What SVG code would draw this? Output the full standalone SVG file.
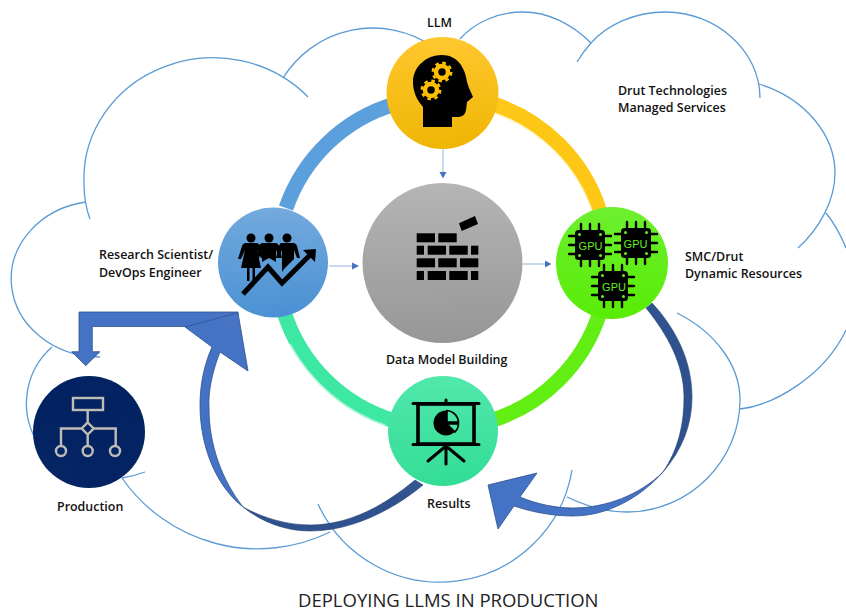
<svg xmlns="http://www.w3.org/2000/svg" xmlns:xlink="http://www.w3.org/1999/xlink" width="846" height="611" viewBox="0 0 846 611">
<style>
.cloud{fill:none;stroke:#5b9bd5;stroke-width:1.3}
.lbl{font-family:"Open Sans","Liberation Sans",sans-serif;font-weight:600;font-size:12.45px;fill:#111}
.gpu{font-family:"Liberation Sans",Arial,sans-serif;font-size:11px;fill:#66ee22;text-anchor:middle}
.ring{fill:none;stroke-width:15}
.thin{stroke:#a9c3e8;stroke-width:1.3;fill:none}
.tip{fill:#4472c4}
.prod{fill:none;stroke:#bfbdb5;stroke-width:2.4}
.big{fill:#4472c4;stroke:#2f528f;stroke-width:.8}
.dark{fill:#2f528f;stroke:#24406f;stroke-width:.6}
</style>
<defs>
<linearGradient id="gY" x1="0" y1="0" x2="0" y2="1"><stop offset="0" stop-color="#ffc72c"/><stop offset="1" stop-color="#efb400"/></linearGradient>
<linearGradient id="gB" x1="0" y1="0" x2="0" y2="1"><stop offset="0" stop-color="#72a9dd"/><stop offset="1" stop-color="#478fd3"/></linearGradient>
<linearGradient id="gS" x1="0" y1="0" x2="0" y2="1"><stop offset="0" stop-color="#b4b4b4"/><stop offset="1" stop-color="#959595"/></linearGradient>
<linearGradient id="gG" x1="0" y1="0" x2="0" y2="1"><stop offset="0" stop-color="#6cef2e"/><stop offset="1" stop-color="#55ec00"/></linearGradient>
<linearGradient id="gT" x1="0" y1="0" x2="0" y2="1"><stop offset="0" stop-color="#50e8ab"/><stop offset="1" stop-color="#2fdc94"/></linearGradient>
<filter id="soft" x="-10%" y="-10%" width="120%" height="120%"><feGaussianBlur stdDeviation=".5"/></filter>
<g id="rim" fill="none" filter="url(#soft)">
<path d="M-.68 -.68A.96 .96 0 0 1 .68 -.68" stroke="#fff" stroke-opacity=".45" stroke-width=".035"/>
<path d="M-.96 .12A.97 .97 0 0 0 .12 .96" stroke="#fff" stroke-opacity=".9" stroke-width=".035"/>
<path d="M.99 -.3A1.03 1.03 0 0 1 .75 .7" stroke="#fff" stroke-opacity=".6" stroke-width=".03"/>
</g>
<g id="chip">
<path d="M-9 -21V-14M0 -21V-14M9 -21V-14M-9 21V14M0 21V14M9 21V14M-21 -9H-14M-21 0H-14M-21 9H-14M21 -9H14M21 0H14M21 9H14" stroke="#000" stroke-width="2.4" stroke-linecap="round"/>
<rect x="-15" y="-15" width="30" height="30" rx="3.5" fill="#000"/>
<circle cx="-10.5" cy="-10.5" r="1.5" fill="#66ee22"/><circle cx="10.5" cy="-10.5" r="1.5" fill="#66ee22"/>
<circle cx="-10.5" cy="10.5" r="1.5" fill="#66ee22"/><circle cx="10.5" cy="10.5" r="1.5" fill="#66ee22"/>
</g>
</defs>
<rect width="846" height="611" fill="#fff"/>

<g id="cloud">
<path class="cloud" d="M90 219C85 206 84 195 84 183A129 121 0 0 1 308 97"/>
<path class="cloud" d="M283 78A106 106 0 0 1 432 46"/>
<path class="cloud" d="M86 202A89 78 0 0 0 100 357"/>
<path class="cloud" d="M52 347A75 75 0 0 0 36 440"/>
<path class="cloud" d="M122 478Q134 476 145 472"/>
<path class="cloud" d="M122 478A165 165 0 0 0 330 532"/>
<path class="cloud" d="M318 504A134 134 0 0 0 572 470"/>
<path class="cloud" d="M567 497C590 508 610 512 627 512C690 512 740 460 740 400C740 365 715 332 677 313"/>
<path class="cloud" d="M740 409C775 405 825 375 846 330"/>
<path class="cloud" d="M759 84C805 98 835 135 835 173C835 200 820 228 798 248"/>
<path class="cloud" d="M826 213Q838 228 846 248"/>
<path class="cloud" d="M760 98C760 50 715 12 666 12C635 12 608 24 591 43Q583 52 577 62"/>
<path class="cloud" d="M591 43C572 24 548 12 523 12C497 12 474 23 460 39"/>
</g>

<g id="ring">
<path class="ring" stroke="#5b9fdc" d="M286 208A165 165 0 0 1 395 104"/>
<path class="ring" stroke="#ffc715" d="M490 103A166 166 0 0 1 600 212"/>
<path class="ring" stroke="#62ee12" d="M600 312A166 166 0 0 1 490 421"/>
<path class="ring" stroke="#3de8a2" d="M284 312A166 166 0 0 0 395 421"/>
<path fill="none" stroke="#fff3b0" stroke-width="1.2" d="M496 114A158 158 0 0 1 592 210"/>
<path fill="none" stroke="#c8fae6" stroke-width="1.2" d="M290 344A173 173 0 0 0 385 425"/>
</g>

<g id="connectors">
<path class="thin" d="M443 148V172"/><path class="tip" d="M439.500 172H446.500L443 178.500Z"/>
<path class="thin" d="M329 266H352"/><path class="tip" d="M352 262.500V269.500L359 266Z"/>
<path class="thin" d="M523 264H545"/><path class="tip" d="M545 260.500V267.500L551.500 264Z"/>
<path class="dark" d="M652 303C677 330 692 362 692 397C692 425 682 450 663 472C678 450 684 425 684 397C684 365 668 335 646 308Z"/>
<path class="big" d="M663 472C640 498 607 516 573 516C552 516 532 512 514 506L498 529L488 485L537 473L520 497C537 504 555 508 573 508C605 508 640 495 663 472Z"/>
<path class="big" d="M79 312H238V326.500H92.300V351.700H100L85.700 365.700L71.700 351.700H79Z"/>
<path class="dark" d="M423 485C390 512 350 531 310 531C285 531 262 522 243 507C263 518 287 525 310 525C350 525 385 505 415 480Z"/>
<path class="big" d="M243 507C215 485 200 445 200 405C200 385 204 365 212 347L185 327L238 312.700L248 371L220 352C213 370 208 390 209 408C209 445 222 480 243 507Z"/>
</g>

<g id="node-data">
<circle cx="442.500" cy="263" r="80" fill="url(#gS)"/>
<use xlink:href="#rim" href="#rim" transform="translate(442.500 263) scale(80)"/>
<g fill="#000">
<path d="M459 223.300L475 216L478 224L461.700 231Z"/>
<rect x="416.700" y="233.300" width="18.300" height="9"/><rect x="438.300" y="233.300" width="18.400" height="9"/>
<rect x="416.700" y="245.700" width="7.300" height="9"/><rect x="427.700" y="245.700" width="18.300" height="9"/><rect x="449.300" y="245.700" width="18.400" height="9"/><rect x="471" y="245.700" width="7.300" height="9"/>
<rect x="416.700" y="258.300" width="18.300" height="9"/><rect x="438.300" y="258.300" width="18.400" height="9"/><rect x="460" y="258.300" width="18.300" height="9"/>
<rect x="416.700" y="271" width="7.300" height="9"/><rect x="427.700" y="271" width="18.300" height="9"/><rect x="449.300" y="271" width="18.400" height="9"/><rect x="471" y="271" width="7.300" height="9"/>
</g>
<text class="lbl" x="386" y="364">Data Model Building</text>
</g>

<g id="node-llm">
<circle cx="442.500" cy="93" r="56" fill="url(#gY)"/>
<use xlink:href="#rim" href="#rim" transform="translate(442.500 93) scale(56)"/>
<path fill="#000" d="M423 127V107C417 100 413 92 413 82C413 67 426 55 442 55C456 55 465 66 467 82L469 88L473 97L467 102L466 110Q465 117 458 117H452V127Z"/>
<g fill="none" stroke="#ffc000">
<circle cx="442" cy="72" r="6" stroke-width="4.500"/><circle cx="442" cy="72" r="9.200" stroke-width="2.500" stroke-dasharray="3.600 3.630"/>
<circle cx="431" cy="90" r="6" stroke-width="4.500"/><circle cx="431" cy="90" r="9.200" stroke-width="2.500" stroke-dasharray="3.600 3.630"/>
</g>
<text class="lbl" x="427" y="27">LLM</text>
</g>

<g id="node-research">
<circle cx="273" cy="262.500" r="55" fill="url(#gB)"/>
<use xlink:href="#rim" href="#rim" transform="translate(273 262.500) scale(55)"/>
<g fill="#000">
<circle cx="251" cy="238" r="4.500"/><circle cx="269" cy="238" r="4.500"/><circle cx="287" cy="238" r="4.500"/>
<path d="M246 243H256Q259 243 260 246L264 258H261L257 250L261 268H255V281H252.500V268H249.500V281H247V268H241L245 250L241 259H238L242 246Q243 243 246 243Z"/>
<path d="M263 243H275Q278 243 279 246L282 258H279L276 250V262L269 258L262 262V250L259 258H256L259 246Q260 243 263 243Z"/>
<path d="M281 243H293Q296 243 297 246L300 258H297L294 250V259L284 269L282 272V250L279 258H276L279 246Q280 243 281 243Z"/>
<path d="M303 250L316 249L315 262Z"/>
</g>
<path fill="none" stroke="#000" stroke-width="5" d="M243 294L268 267L282 283L310 255"/>
<text class="lbl" x="99" y="259">Research Scientist/</text>
<text class="lbl" x="99" y="277">DevOps Engineer</text>
</g>

<g id="node-gpu">
<circle cx="612" cy="263" r="56" fill="url(#gG)"/>
<use xlink:href="#rim" href="#rim" transform="translate(612 263) scale(56)"/>
<use xlink:href="#chip" href="#chip" transform="translate(590 245)"/>
<use xlink:href="#chip" href="#chip" transform="translate(636 243)"/>
<use xlink:href="#chip" href="#chip" transform="translate(613 286)"/>
<text class="gpu" x="590.500" y="249.500">GPU</text>
<text class="gpu" x="635.500" y="248">GPU</text>
<text class="gpu" x="614" y="290.500">GPU</text>
<text class="lbl" x="685" y="261">SMC/Drut</text>
<text class="lbl" x="685" y="278">Dynamic Resources</text>
</g>

<g id="node-results">
<circle cx="443" cy="431" r="55" fill="url(#gT)"/>
<use xlink:href="#rim" href="#rim" transform="translate(443 431) scale(55)"/>
<g fill="none" stroke="#000" stroke-linecap="round">
<path stroke-width="3" d="M413 403.500H479M413 444.500H479"/>
<rect x="418" y="404" width="56" height="40" stroke-width="3.600"/>
<path stroke-width="3" d="M446 400V403M446 445V464M446 446L428 461M446 446L464 461"/>
</g>
<circle cx="446" cy="423" r="12.500" fill="#000"/>
<path d="M447 422V410.500A12.500 12.500 0 0 1 458.500 422Z" fill="#48e6a6" stroke="#000" stroke-width="1.600"/>
<path d="M447 424H458.500A12.500 12.500 0 0 1 455 432Z" fill="#48e6a6" stroke="#000" stroke-width="1.600"/>
<text class="lbl" x="427" y="508">Results</text>
</g>

<g id="node-production">
<circle cx="89" cy="432" r="56" fill="#002060"/>
<use xlink:href="#rim" href="#rim" transform="translate(89 432) scale(56)"/>
<rect class="prod" x="73" y="398" width="30" height="12"/>
<path class="prod" d="M87.700 410V422.500M87.700 434.500V446M81.700 428.500H61V446M93.700 428.500H115.700V446M87.700 422.500L93.700 428.500L87.700 434.500L81.700 428.500Z"/>
<circle class="prod" cx="61" cy="451" r="5"/><circle class="prod" cx="87.700" cy="451" r="5"/><circle class="prod" cx="115" cy="451" r="5"/>
<text class="lbl" x="57" y="511">Production</text>
</g>

<g id="node-cloud-label">
<text class="lbl" x="618" y="95">Drut Technologies</text>
<text class="lbl" x="618" y="112">Managed Services</text>
</g>
<text id="title" x="298" y="607" font-family="'Open Sans','Liberation Sans',sans-serif" font-size="18.5px" fill="#222">DEPLOYING LLMS IN PRODUCTION</text>
</svg>
